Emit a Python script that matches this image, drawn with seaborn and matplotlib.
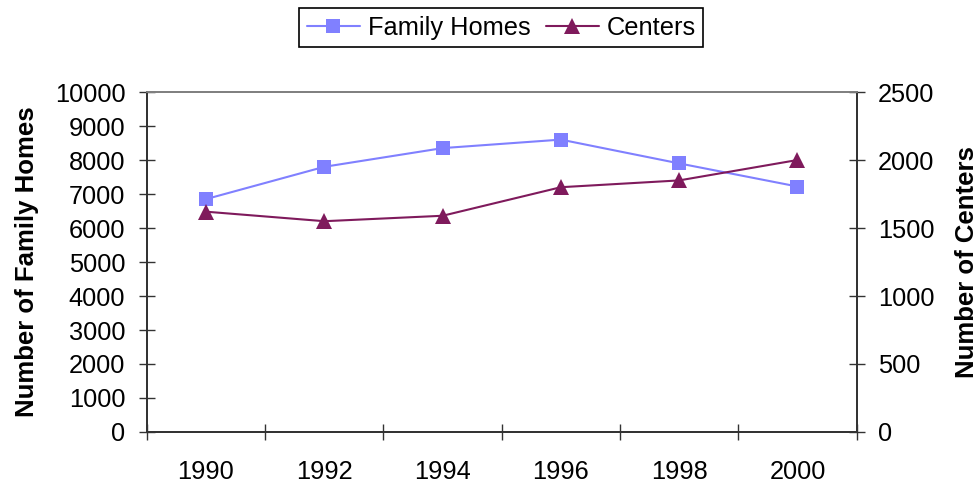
import numpy as np
import pandas as pd
import seaborn as sns
import matplotlib.pyplot as plt

# values
years = [1990, 1992, 1994, 1996, 1998, 2000]
family_homes = [6850, 7800, 8350, 8600, 7900, 7220]
centers = [1620, 1550, 1590, 1800, 1850, 2000]

left_ticks = [0, 1000, 2000, 3000, 4000, 5000, 6000, 7000, 8000, 9000, 10000]
right_ticks = [0, 500, 1000, 1500, 2000, 2500]

df = pd.DataFrame({'Year': years, 'Family Homes': family_homes, 'Centers': centers})

sns.set_style("ticks")
plt.rcParams['font.family'] = ['Liberation Sans', 'DejaVu Sans']
plt.rcParams['text.color'] = 'black'
plt.rcParams['axes.labelcolor'] = 'black'
plt.rcParams['xtick.labelcolor'] = 'black'
plt.rcParams['ytick.labelcolor'] = 'black'

fig = plt.figure(figsize=(9.79, 4.83), dpi=100)
ax = fig.add_axes([0.150, 0.1056, 0.725, 0.7039])
ax2 = ax.twinx()

home_col = '#8080ff'
cent_col = '#7f1a5c'

sns.lineplot(data=df, x='Year', y='Family Homes', ax=ax, color=home_col, marker='s',
             markersize=9.5, markeredgewidth=0, linewidth=1.5, label='Family Homes', legend=False)
sns.lineplot(data=df, x='Year', y='Centers', ax=ax2, color=cent_col, marker='^',
             markersize=11, markeredgewidth=0, linewidth=1.5, label='Centers', legend=False)

axis_col = '#333333'
tick_fs = 18.3
ax.set_xlim(years[0] - 1, years[-1] + 1)
ax.set_xticks(np.arange(years[0] - 1, years[-1] + 2, 2))
ax.set_xticklabels([])
ax.set_xticks(years, minor=True)
ax.set_xticklabels([str(y) for y in years], minor=True)
ax.tick_params(axis='x', which='major', direction='inout', length=11, width=1, color=axis_col)
ax.tick_params(axis='x', which='minor', length=0, pad=20, labelsize=tick_fs)

ax.set_ylim(0, 10000)
ax.set_yticks(left_ticks)
ax.tick_params(axis='y', direction='inout', length=11, width=1, color=axis_col, pad=10, labelsize=tick_fs)
ax2.set_ylim(0, 2500)
ax2.set_yticks(right_ticks)
ax2.tick_params(axis='y', direction='inout', length=11, width=1, color=axis_col, pad=10, labelsize=tick_fs)

ax.set_xlabel('')
ax.set_ylabel('Number of Family Homes', fontsize=18.5, fontweight='bold', labelpad=11)
ax2.set_ylabel('Number of Centers', fontsize=18.5, fontweight='bold', labelpad=15)

for a in (ax, ax2):
    for side in ('left', 'right', 'bottom'):
        a.spines[side].set_color(axis_col)
        a.spines[side].set_linewidth(1.3)
    a.spines['top'].set_color('#808080')
    a.spines['top'].set_linewidth(1.3)
    a.grid(False)

h1, l1 = ax.get_legend_handles_labels()
h2, l2 = ax2.get_legend_handles_labels()
leg = fig.legend(h1 + h2, l1 + l2, loc='center', bbox_to_anchor=(0.512, 0.943), ncol=2,
                 frameon=True, fancybox=False, edgecolor='black', framealpha=1,
                 fontsize=18.3, handlelength=2.1, handletextpad=0.3, columnspacing=0.6,
                 borderpad=0.3, borderaxespad=0)
leg.get_frame().set_linewidth(1.2)

fig.savefig('out.png', dpi=100)
